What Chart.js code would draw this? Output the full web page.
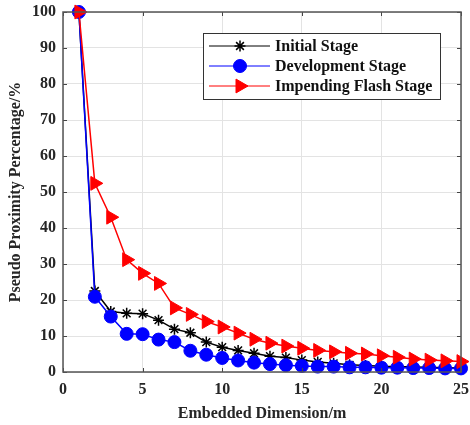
<!DOCTYPE html>
<html>
<head>
<meta charset="utf-8">
<script src="https://cdn.jsdelivr.net/npm/chart.js@4/dist/chart.umd.min.js"></script>
<style>
  html, body { margin: 0; padding: 0; background: #fff; }
  #wrap { width: 470px; height: 425px; position: relative; }
</style>
</head>
<body>
<div id="wrap"><canvas id="c" width="470" height="425"></canvas></div>
<script>
// ---- data ----
const dimensions = [1,2,3,4,5,6,7,8,9,10,11,12,13,14,15,16,17,18,19,20,21,22,23,24,25];
const initialStage = [100,22.5,16.8,16.3,16.2,14.4,11.9,10.9,8.3,6.9,6.0,5.2,4.4,4.0,3.3,2.8,2.4,2.0,1.8,1.6,1.5,1.4,1.3,1.2,1.1];
const developmentStage = [100,20.9,15.4,10.6,10.5,9.0,8.3,5.9,4.8,3.9,3.2,2.6,2.2,1.9,1.7,1.5,1.5,1.3,1.3,1.2,1.2,1.1,1.1,1.0,1.0];
const impendingFlashStage = [100,52.4,43.0,31.2,27.4,24.6,17.8,16.0,14.0,12.5,10.8,9.1,8.0,7.2,6.6,6.0,5.6,5.2,5.0,4.5,4.1,3.6,3.3,3.1,2.9];
const seriesNames = ['Initial Stage', 'Development Stage', 'Impending Flash Stage'];
const xTicks = [0,5,10,15,20,25];
const yTicks = [0,10,20,30,40,50,60,70,80,90,100];
const xTitle = 'Embedded Dimension/m';
const yTitle = 'Pseudo Proximity Percentage/%';

const FONT = '"Liberation Serif", "Times New Roman", serif';
const toXY = arr => arr.map((v, i) => ({x: dimensions[i], y: v}));

const frameTicks = {
  id: 'frameTicks',
  afterDatasetsDraw(chart) {
    const ctx = chart.ctx, a = chart.chartArea;
    const xs = chart.scales.x, ys = chart.scales.y;
    ctx.save();
    ctx.strokeStyle = '#444';
    ctx.lineWidth = 1;
    ctx.beginPath();
    xs.ticks.forEach(t => {
      const px = Math.round(xs.getPixelForValue(t.value)) + 0.5;
      ctx.moveTo(px, a.bottom); ctx.lineTo(px, a.bottom - 4);
      ctx.moveTo(px, a.top); ctx.lineTo(px, a.top + 4);
    });
    ys.ticks.forEach(t => {
      const py = Math.round(ys.getPixelForValue(t.value)) + 0.5;
      ctx.moveTo(a.left, py); ctx.lineTo(a.left + 4, py);
      ctx.moveTo(a.right, py); ctx.lineTo(a.right - 4, py);
    });
    ctx.stroke();
    ctx.lineWidth = 1.5;
    ctx.strokeStyle = '#555';
    ctx.strokeRect(a.left, a.top, a.right - a.left, a.bottom - a.top);
    ctx.restore();
  },
  afterDraw(chart) {
    const ctx = chart.ctx;
    const bx = 203, by = 33, bw = 237, bh = 66;
    ctx.save();
    ctx.fillStyle = '#fff';
    ctx.fillRect(bx, by, bw, bh);
    ctx.strokeStyle = '#333';
    ctx.lineWidth = 1;
    ctx.strokeRect(bx + 0.5, by + 0.5, bw, bh);
    chart.data.datasets.forEach((ds, i) => {
      const y = by + 13 + i * 20;
      ctx.strokeStyle = ds.borderColor;
      ctx.lineWidth = 1;
      ctx.beginPath();
      ctx.moveTo(209, y); ctx.lineTo(270, y);
      ctx.stroke();
      ctx.fillStyle = ds.pointBackgroundColor;
      ctx.strokeStyle = ds.pointBorderColor;
      ctx.lineWidth = ds.pointBorderWidth;
      Chart.helpers.drawPoint(ctx, {
        pointStyle: ds.pointStyle, radius: ds.pointRadius, rotation: ds.pointRotation || 0, borderWidth: ds.pointBorderWidth
      }, 240, y);
      ctx.fillStyle = '#111';
      ctx.font = 'bold 16px ' + FONT;
      ctx.textBaseline = 'middle';
      ctx.textAlign = 'left';
      ctx.fillText(ds.label, 275, y + 1);
    });
    ctx.restore();
  }
};

new Chart(document.getElementById('c'), {
  type: 'line',
  data: {
    datasets: [
      {
        label: seriesNames[0], data: toXY(initialStage), order: 3,
        borderColor: '#000', borderWidth: 1.5,
        pointStyle: 'star', pointRadius: 5.5, pointBorderColor: '#000', pointBackgroundColor: '#000', pointBorderWidth: 1.5
      },
      {
        label: seriesNames[1], data: toXY(developmentStage), order: 2,
        borderColor: '#0000ff', borderWidth: 1.5,
        pointStyle: 'circle', pointRadius: 6.5, pointBorderColor: '#0000ff', pointBackgroundColor: '#0000ff', pointBorderWidth: 1
      },
      {
        label: seriesNames[2], data: toXY(impendingFlashStage), order: 1,
        borderColor: '#ff0000', borderWidth: 1.5,
        pointStyle: 'triangle', pointRotation: 90, pointRadius: 8, pointBorderColor: '#ff0000', pointBackgroundColor: '#ff0000', pointBorderWidth: 1
      }
    ]
  },
  options: {
    responsive: false,
    animation: false,
    devicePixelRatio: 1,
    clip: false,
    layout: { padding: { left: 6, right: 8, top: 12, bottom: 2 } },
    plugins: { legend: { display: false }, tooltip: { enabled: false } },
    elements: { line: { tension: 0 } },
    scales: {
      x: {
        type: 'linear', min: 0, max: 25,
        afterBuildTicks: s => { s.ticks = xTicks.map(v => ({value: v})); },
        afterFit: s => { s.height = 51; s.paddingLeft = 0; s.paddingRight = 0; },
        grid: { color: '#e3e3e3', lineWidth: 1, drawTicks: false },
        border: { display: false },
        ticks: { color: '#262626', font: { family: FONT, size: 16, weight: 'bold' }, padding: 8, maxRotation: 0 },
        title: { display: true, text: xTitle, color: '#262626', font: { family: FONT, size: 16, weight: 'bold' }, padding: { top: 2, bottom: 0 } }
      },
      y: {
        type: 'linear', min: 0, max: 100,
        afterBuildTicks: s => { s.ticks = yTicks.map(v => ({value: v})); },
        afterFit: s => { s.width = 57; s.paddingTop = 0; s.paddingBottom = 0; },
        grid: { color: '#e3e3e3', lineWidth: 1, drawTicks: false },
        border: { display: false },
        ticks: { color: '#262626', font: { family: FONT, size: 16, weight: 'bold' }, padding: 7 },
        title: { display: true, text: yTitle, color: '#262626', font: { family: FONT, size: 16, weight: 'bold' }, padding: { top: 0, bottom: 4 } }
      }
    }
  },
  plugins: [frameTicks]
});
</script>
</body>
</html>
